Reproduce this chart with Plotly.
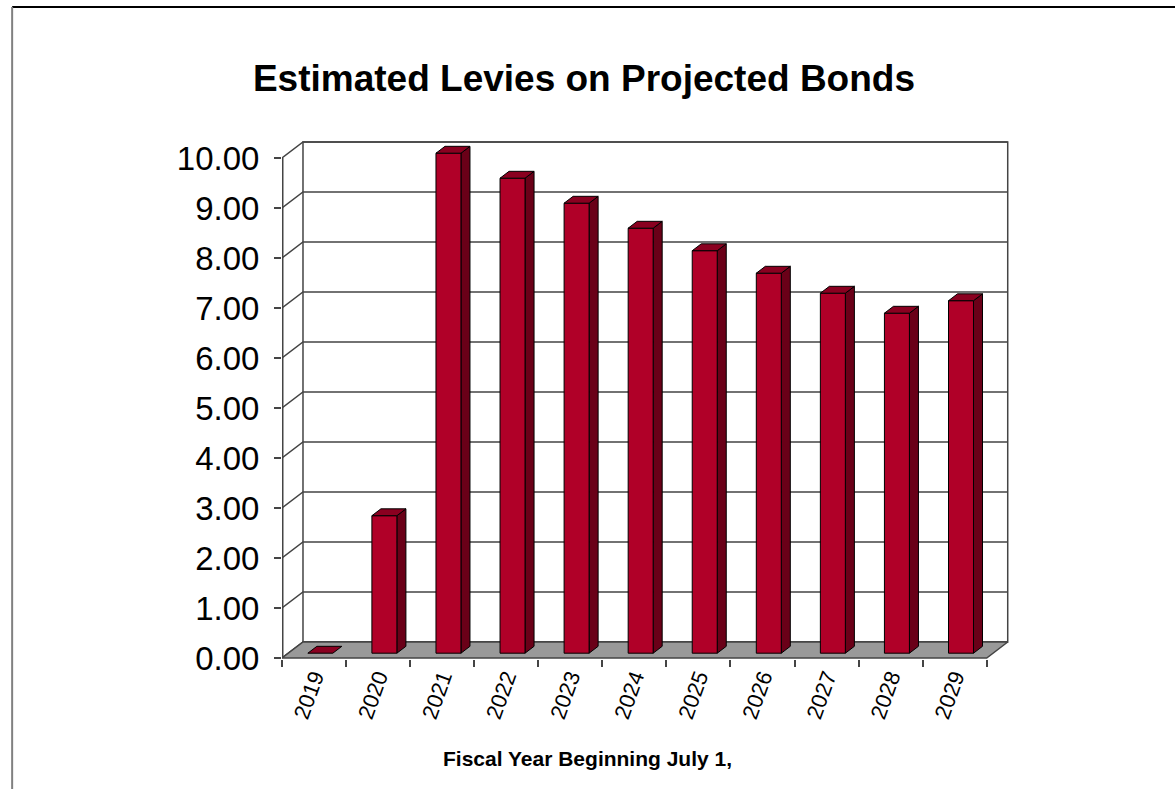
import plotly.graph_objects as go

# ---- data ----
years = ["2019", "2020", "2021", "2022", "2023", "2024", "2025", "2026", "2027", "2028", "2029"]
levies = [0.0, 2.75, 10.0, 9.5, 9.0, 8.5, 8.05, 7.6, 7.2, 6.8, 7.05]
y_ticks = [0, 1, 2, 3, 4, 5, 6, 7, 8, 9, 10]

title_text = "Estimated Levies on Projected Bonds"
x_title = "Fiscal Year Beginning July 1,"

# ---- 3D look parameters (in axis units) ----
DX = 21 / 64.1     # depth shift per full depth, x units (categories)
DY = 16 / 50       # depth shift per full depth, y units (value)
BAR_W = 0.39
D_FRONT = 0.30
D_BACK = 0.73

n = len(years)
x0, x1 = -0.5, n - 0.5
ymax = max(y_ticks)

FRONT = "#B00028"
SIDE = "#6A0018"
TOP = "#8A0020"
GRID = "#444444"

fig = go.Figure()

def poly_trace(xs, ys, fill, line_color, width=1.0):
    return go.Scatter(x=xs, y=ys, mode="lines", fill="toself", fillcolor=fill,
                      line=dict(color=line_color, width=width), hoverinfo="skip",
                      showlegend=False)

# back wall
bx0, bx1 = x0 + DX, x1 + DX
fig.add_trace(poly_trace([bx0, bx1, bx1, bx0, bx0],
                         [DY, DY, ymax + DY, ymax + DY, DY], "white", GRID, 1.5))

# back gridlines + side diagonals
gx, gy = [], []
for t in y_ticks:
    gx += [x0, bx0, bx1, None]
    gy += [t, t + DY, t + DY, None]
fig.add_trace(go.Scatter(x=gx, y=gy, mode="lines", line=dict(color=GRID, width=1.5),
                         hoverinfo="skip", showlegend=False))

# floor
fig.add_trace(poly_trace([x0, x1, bx1, bx0, x0], [0, 0, DY, DY, 0], "#999999", GRID, 1.5))

# front vertical axis line
fig.add_trace(go.Scatter(x=[x0, x0], y=[0, ymax], mode="lines",
                         line=dict(color=GRID, width=3), hoverinfo="skip", showlegend=False))

# bars
fx, fy, sx, sy, tx, ty = [], [], [], [], [], []
dd = D_BACK - D_FRONT
for i, v in enumerate(levies):
    cx = i + D_FRONT * DX
    L, R = cx - BAR_W / 2, cx + BAR_W / 2
    b = D_FRONT * DY
    t = v + D_FRONT * DY
    ox, oy = dd * DX, dd * DY
    if v > 0:
        fx += [L, R, R, L, L, None]
        fy += [b, b, t, t, b, None]
        sx += [R, R + ox, R + ox, R, R, None]
        sy += [b, b + oy, t + oy, t, b, None]
    tx += [L, R, R + ox, L + ox, L, None]
    ty += [t, t, t + oy, t + oy, t, None]

fig.add_trace(poly_trace(sx, sy, SIDE, "black", 1))
fig.add_trace(poly_trace(fx, fy, FRONT, "black", 1))
fig.add_trace(poly_trace(tx, ty, TOP, "black", 1))

# ---- layout ----
W, H = 1175, 789
left_px, right_px = 282, 1009
x_range = [x0, x1 + DX + 0.02]
ppu_x = 64.1
plot_w = (x_range[1] - x_range[0]) * ppu_x
y_range = [-0.02, ymax + DY + 0.04]
plot_h = (y_range[1] - y_range[0]) * 50
top_px = 658 - y_range[1] * 50

fig.update_layout(
    width=W, height=H,
    margin=dict(l=left_px, r=W - left_px - plot_w, t=top_px, b=H - top_px - plot_h, pad=0),
    paper_bgcolor="white", plot_bgcolor="white",
    font=dict(family="Liberation Sans, Arial, sans-serif", color="black"),
    title=dict(text="<b>" + title_text + "</b>", x=0.497, xref="container", xanchor="center",
               y=1 - 78 / H, yref="container", yanchor="middle",
               font=dict(size=37, color="black")),
    xaxis=dict(range=x_range, tickvals=list(range(n)), ticktext=years, ticks="",
               tickangle=-70, tickfont=dict(size=22), showgrid=False, zeroline=False,
               showline=False,
               minor=dict(tickvals=[k - 0.5 for k in range(n + 1)], ticks="outside",
                          ticklen=7, tickcolor=GRID, tickwidth=1.5, showgrid=False)),
    yaxis=dict(range=y_range, tickvals=y_ticks, tickformat=".2f", ticks="outside",
               ticklen=7, tickcolor=GRID, tickwidth=1.5, tickfont=dict(size=33),
               showgrid=False, zeroline=False, showline=False, ticklabelstandoff=8),
    showlegend=False,
)

# x axis title
fig.add_annotation(text="<b>" + x_title + "</b>", xref="paper", yref="paper",
                   x=(588 - left_px) / plot_w, y=-(757 - 658) / plot_h,
                   xanchor="center", yanchor="middle", showarrow=False,
                   font=dict(size=21, color="black"))

# outer frame (top black, left gray)
fx_l = (12 - left_px) / plot_w
fy_t = (658 - 6) / plot_h
fig.add_shape(type="line", xref="paper", yref="paper", x0=fx_l, x1=2, y0=fy_t, y1=fy_t,
              line=dict(color="black", width=2))
fig.add_shape(type="line", xref="paper", yref="paper", x0=fx_l, x1=fx_l, y0=fy_t, y1=-2,
              line=dict(color="#808080", width=2))

fig.write_html("out.html", config={"displayModeBar": False},
               post_script="document.body.style.margin='0';document.body.style.overflow='hidden';")
